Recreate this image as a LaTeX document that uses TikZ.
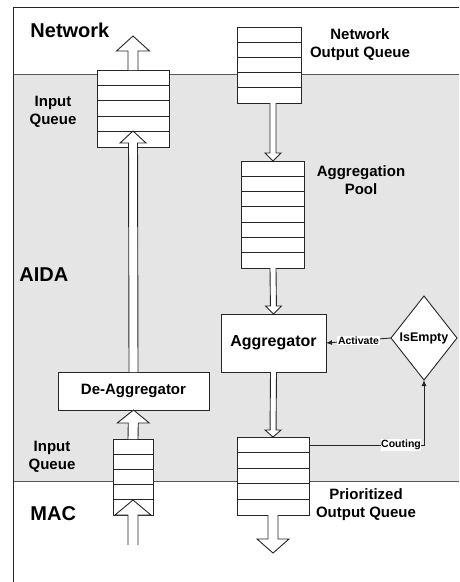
\documentclass[tikz,border=0pt]{standalone}
\usepackage{fontspec}
\setmainfont{Liberation Sans}
\usetikzlibrary{calc,shapes.geometric,arrows.meta}

% queue: name, centre, width, height, cells
\newcommand{\drawqueue}[5]{%
  \node[box, minimum width=#3, minimum height=#4] (#1) at (#2) {};
  \pgfmathtruncatemacro{\lastcell}{#5-1}
  \foreach \k in {1,...,\lastcell} {
      \draw ($(#1.north west)!\k/#5!(#1.south west)$) -- ($(#1.north east)!\k/#5!(#1.south east)$);
    }
}
% hollow arrow: start, tip, shaft half width, head half width, head length
\newcommand{\fatarrow}[5]{%
  \coordinate (fa-b) at ($(#2)!#5pt!(#1)$);
  \draw[fill=white] ($(#1)+(-#3,0)$) -- ($(fa-b)+(-#3,0)$) -- ($(fa-b)+(-#4,0)$) -- (#2)
  -- ($(fa-b)+(#4,0)$) -- ($(fa-b)+(#3,0)$) -- ($(#1)+(#3,0)$);
}

\tikzset{
  box/.style={draw, fill=white, inner sep=0pt, outer sep=0pt},
  lbl/.style={font=\fontsize{15}{18}\selectfont\bfseries, align=center, inner sep=0pt},
  layer/.style={font=\fontsize{20}{24}\selectfont\bfseries, anchor=west, inner sep=0pt},
  tag/.style={font=\fontsize{10.5}{12}\selectfont\bfseries, fill=white, inner sep=0.6pt},
}

\begin{document}
\begin{tikzpicture}[x=1pt, y=-1pt, line width=0.9pt, draw=black!85, >=Latex]
    \useasboundingbox (0,0) rectangle (459,582);

    % layers
    \fill[black!10] (13,74) rectangle (459,481);
    \draw[black!65] (13,74) -- (459,74);
    \draw[black!65] (13,481) -- (459,481);
    \draw (459,7) -- (13,7) -- (13,582);

    % left column
    \drawqueue{inq}{133,108.5}{72pt}{77pt}{5}
    \node[box, minimum width=151pt, minimum height=38pt, lbl] (deagg) at (133.5,391) {De-Aggregator};
    \drawqueue{lowq}{133,477}{40pt}{76pt}{5}

    % right column
    \drawqueue{noq}{269,65}{64pt}{76pt}{5}
    \drawqueue{pool}{273,214.5}{63pt}{107pt}{7}
    \node[box, minimum width=105pt, minimum height=58pt, lbl, font=\fontsize{16}{19}\selectfont\bfseries] (agg) at (273.5,343) {Aggregator};
    \drawqueue{prq}{273,476}{72pt}{78pt}{5}
    \node[box, diamond, minimum width=66pt, minimum height=84pt, font=\fontsize{12.5}{15}\selectfont\bfseries] (ise) at (424,338) {IsEmpty};

    % hollow arrows
    \coordinate (netout) at (133,36);
    \coordinate (macin) at (133,545);
    \coordinate (macout) at (273,553);
    \fatarrow{inq.north}{netout}{5}{16.5}{15}
    \fatarrow{deagg.north}{$(inq.south)+(0,-16)$}{4.5}{13}{12}
    \fatarrow{lowq.north}{deagg.south}{5}{16}{13}
    \fatarrow{macin}{$(lowq.south)+(0,-15)$}{5}{18}{15}
    \fatarrow{noq.south -| pool.north}{pool.north}{3}{8}{8}
    \fatarrow{pool.south}{agg.north}{3}{8}{8}
    \fatarrow{agg.south}{prq.north}{3}{8}{7}
    \fatarrow{prq.south}{macout}{5}{16}{14}

    % control lines
    \draw[-{Latex[length=6pt,width=5pt]}] (ise.west) -- (agg.east) node[midway, tag] {Activate};
    \coordinate (cnt) at ($(prq.north east)+(0,8)$);
    \draw[-{Latex[length=6pt,width=5pt]}] (cnt) -- (cnt -| ise.south) node[pos=0.8, tag] {Couting} -- (ise.south);

    % labels
    \node[layer] (lnet) at (30,30) {Network};
    \node[layer] (laida) at (19,275) {AIDA};
    \node[layer] (lmac) at (30,514) {MAC};
    \node[lbl] (linq) at (53,112) {Input\\Queue};
    \node[lbl] (llowq) at (52,457) {Input\\Queue};
    \node[lbl] (lnoq) at (360,45) {Network\\Output Queue};
    \node[lbl] (lpool) at (361,180) {Aggregation\\Pool};
    \node[lbl] (lprq) at (366,505) {Prioritized\\Output Queue};
\end{tikzpicture}
\end{document}
